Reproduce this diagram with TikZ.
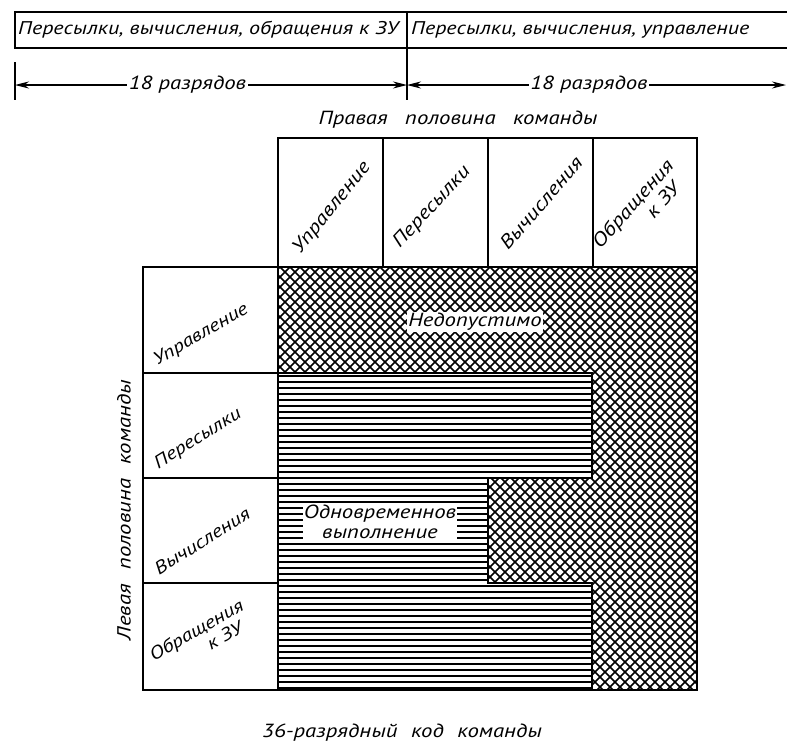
\documentclass[tikz,border=0pt]{standalone}
\usepackage{fontspec}
\newfontfamily\cyrit{PT Sans Italic}[FakeStretch=1.2]
\usetikzlibrary{arrows.meta}
\begin{document}
\begin{tikzpicture}[x=1pt,y=-1pt,
  font=\cyrit\fontsize{19}{20}\selectfont,
  smallf/.style={font=\cyrit\fontsize{18}{19}\selectfont},
  barf/.style={font=\cyrit\fontsize{18.4}{19}\selectfont},
  frame/.style={line width=1.6pt},
  cell/.style={draw, line width=1.6pt, inner sep=0pt, anchor=center},
  lab/.style={fill=white, inner sep=1.5pt},
  rlab/.style={align=center, inner sep=0pt},
  dimarrow/.style={line width=1.2pt, {Stealth[length=14pt,width=7pt]}-{Stealth[length=14pt,width=7pt]}},
  hatchline/.style={line width=1.5pt},
  crossline/.style={line width=1.5pt}]
\useasboundingbox (0,0) rectangle (787,742);

% ---- top bar
\draw[frame] (787,12) -- (15,12) -- (15,48) -- (787,48);
\coordinate (divtop) at (407,12);
\coordinate (divbot) at (407,100);
\draw[frame] (divtop) -- (divbot);
\node[barf, anchor=west, inner sep=0pt] (bar1) at (18,30) {Пересылки, вычисления, обращения к ЗУ};
\node[barf, anchor=west, inner sep=0pt] (bar2) at (411,30) {Пересылки, вычисления, управление};

% ---- dimension lines
\coordinate (tickA) at (15,62);
\coordinate (tickB) at (15,100);
\draw[line width=1.2pt] (tickA) -- (tickB);
\coordinate (dl) at (15,85);
\coordinate (dm) at (407,85);
\coordinate (dr) at (786,85);
\draw[dimarrow] (dl) -- (dm) node[lab, pos=0.44] (w1) {18 разрядов};
\draw[dimarrow] (dm) -- (dr) node[lab, pos=0.48] (w2) {18 разрядов};

% ---- titles
\node (rtitle) at (458,120) {Правая\hspace{0.6em} половина\hspace{0.6em} команды};
\node[rotate=90] (ltitle) at (124,510) {Левая\hspace{0.45em} половина\hspace{0.45em} команды};
\node (btitle) at (402,733) {36-разрядный\hspace{0.4em} код\hspace{0.4em} команды};

% ---- top header cells
\node[cell, minimum width=105pt, minimum height=129pt] (c1) at (330.5,202.5) {};
\node[cell, minimum width=105pt, minimum height=129pt] (c2) at (435.5,202.5) {};
\node[cell, minimum width=105pt, minimum height=129pt] (c3) at (540.5,202.5) {};
\node[cell, minimum width=104pt, minimum height=129pt] (c4) at (645,202.5) {};
\node[rlab, rotate=51] (c1t) at (332,208) {Управление};
\node[rlab, rotate=47] (c2t) at (432,207) {Пересылки};
\node[rlab, rotate=49] (c3t) at (541,203) {Вычисления};
\node[rlab, rotate=48] (c4t) at (640,210) {Обращения\\\hspace*{2.4em}к ЗУ};

% ---- left header cells
\node[cell, minimum width=135pt, minimum height=106pt] (r1) at (210.5,320) {};
\node[cell, minimum width=135pt, minimum height=105pt] (r2) at (210.5,425.5) {};
\node[cell, minimum width=135pt, minimum height=105pt] (r3) at (210.5,530.5) {};
\node[cell, minimum width=135pt, minimum height=107pt] (r4) at (210.5,636.5) {};
\node[rlab, smallf, rotate=30] (r1t) at (201,335) {Управление};
\node[rlab, smallf, rotate=32] (r2t) at (198,439) {Пересылки};
\node[rlab, smallf, rotate=32] (r3t) at (202,541) {Вычисления};
\node[rlab, smallf, rotate=30] (r4t) at (201,638) {Обращения\\\hspace*{2.4em}к ЗУ};

% ---- horizontal hatching: simultaneous execution
\begin{scope}
  \clip (278,373) -- (592,373) -- (592,478) -- (488,478) -- (488,583) -- (592,583) -- (592,690) -- (278,690) -- cycle;
  \foreach \y in {376,382,...,690} \draw[hatchline] (278,\y) -- (592,\y);
\end{scope}

% ---- cross hatching: not allowed
\begin{scope}
  \clip (278,267) -- (697,267) -- (697,690) -- (592,690) -- (592,583) -- (488,583) -- (488,478) -- (592,478) -- (592,373) -- (278,373) -- cycle;
  \foreach \k in {-160,-150,...,1140} {
    \draw[crossline] (\k,267) -- ++(440,440);
    \draw[crossline] (\k,267) -- ++(-440,440);
  }
\end{scope}

% ---- outlines
\draw[frame] (278,267) rectangle (697,690);
\draw[frame] (278,373) -- (592,373) -- (592,478) -- (488,478) -- (488,583) -- (592,583) -- (592,690);

% ---- region labels
\node[lab] (bad) at (475,322) {Недопустимо};
\node[lab, align=center, inner sep=1pt] (ok) at (380,522) {Одновременнов\\выполнение};
\end{tikzpicture}
\end{document}
